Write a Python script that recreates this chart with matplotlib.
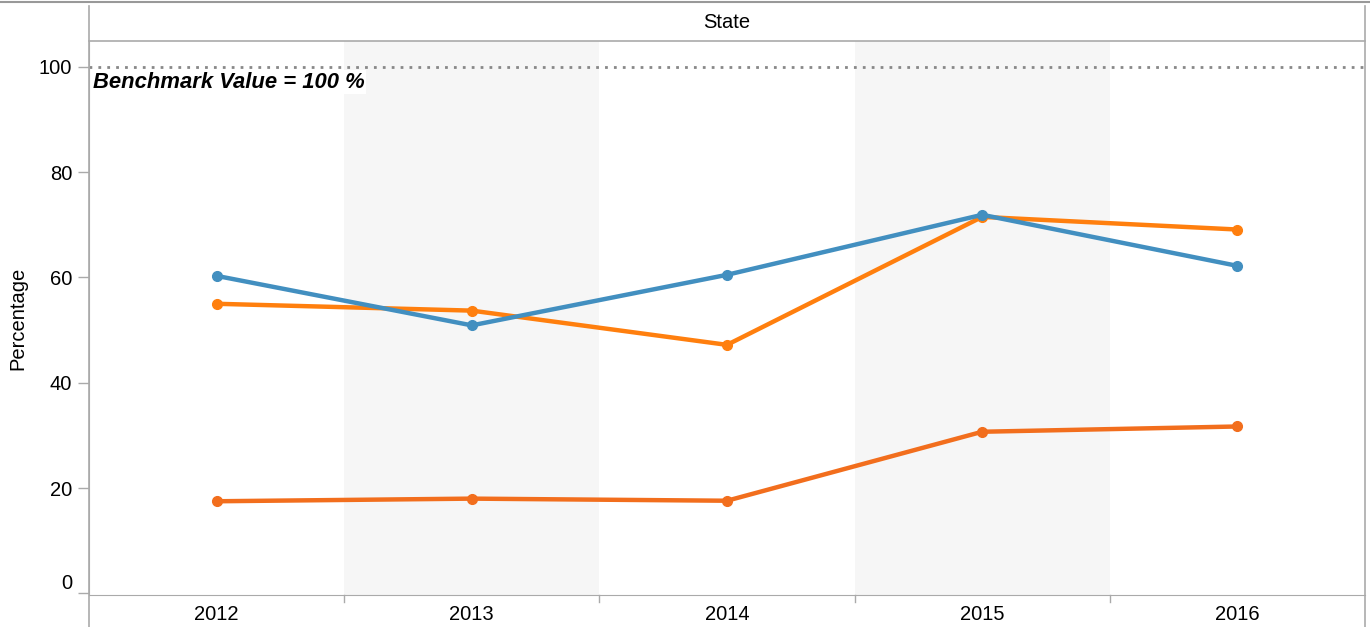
import matplotlib
matplotlib.use("Agg")
import matplotlib.pyplot as plt
from matplotlib.lines import Line2D

plt.rcParams['font.family'] = ['Liberation Sans', 'DejaVu Sans']

years = ["2012", "2013", "2014", "2015", "2016"]
series_blue = [60.3, 50.9, 60.5, 71.9, 62.2]
series_orange = [55.0, 53.7, 47.2, 71.5, 69.1]
series_darkorange = [17.5, 18.0, 17.6, 30.7, 31.7]
benchmark = 100
yticks = [0, 20, 40, 60, 80, 100]

W, H = 1370, 627
fig = plt.figure(figsize=(W / 100, H / 100), dpi=100)

L, R, T, B = 89, 1365, 41, 595
FS = 14.5
ax = fig.add_axes([L / W, 1 - B / H, (R - L) / W, (B - T) / H])

x = list(range(len(years)))
for i in x:
    if i % 2 == 1:
        ax.axvspan(i - 0.5, i + 0.5, color="#f6f6f6", zorder=0, lw=0)

ax.axhline(benchmark, color="#888888", lw=2, ls=(0, (1, 2.2)), zorder=1)
ax.text(-0.485, benchmark - 0.9, "Benchmark Value = 100 %", fontsize=15.8,
        fontweight="bold", fontstyle="italic", va="top", ha="left",
        bbox=dict(facecolor="white", edgecolor="none", pad=1.0), zorder=2)

for vals, col in [(series_darkorange, "#f26e1d"), (series_orange, "#ff7f0e"),
                  (series_blue, "#428fc0")]:
    ax.plot(x, vals, color=col, lw=3.2, marker="o", ms=7, zorder=3,
            solid_capstyle="round")

ax.set_xlim(-0.5, len(years) - 0.5)
ax.set_ylim(-0.3, 104.9)
ax.set_yticks(yticks)
ax.set_yticklabels([str(v) for v in yticks], fontsize=FS)
ax.get_yticklabels()[0].set_va("bottom")
ax.set_xticks(x)
ax.set_xticklabels(years, fontsize=FS)
ax.tick_params(axis="x", length=0, pad=7)
ax.tick_params(axis="y", length=8, color="#aaaaaa", width=1, pad=4)
for b in [0.5, 1.5, 2.5, 3.5]:
    ax.plot([b, b], [0, -0.012], transform=ax.get_xaxis_transform(),
            color="#aaaaaa", lw=1, clip_on=False)

for s in ["top", "right"]:
    ax.spines[s].set_visible(False)
ax.spines["left"].set_color("#aaaaaa")
ax.spines["bottom"].set_color("#aaaaaa")

ax.set_ylabel("Percentage", fontsize=FS)
ax.yaxis.set_label_coords((27 - L) / (R - L), 0.5)

def hline(y, x0, x1, c="#aaaaaa", lw=1.2):
    fig.add_artist(Line2D([x0 / W, x1 / W], [1 - y / H, 1 - y / H], color=c, lw=lw))

def vline(xp, y0, y1, c="#aaaaaa", lw=1.2):
    fig.add_artist(Line2D([xp / W, xp / W], [1 - y0 / H, 1 - y1 / H], color=c, lw=lw))

hline(1.5, 0, W, c="#999999", lw=1.5)
hline(T, L, R)
vline(L, 6, H)
vline(R, 6, H)
fig.text((L + R) / 2 / W, 1 - 23 / H, "State", ha="center", va="center", fontsize=FS)

fig.savefig("out.png", dpi=100)
